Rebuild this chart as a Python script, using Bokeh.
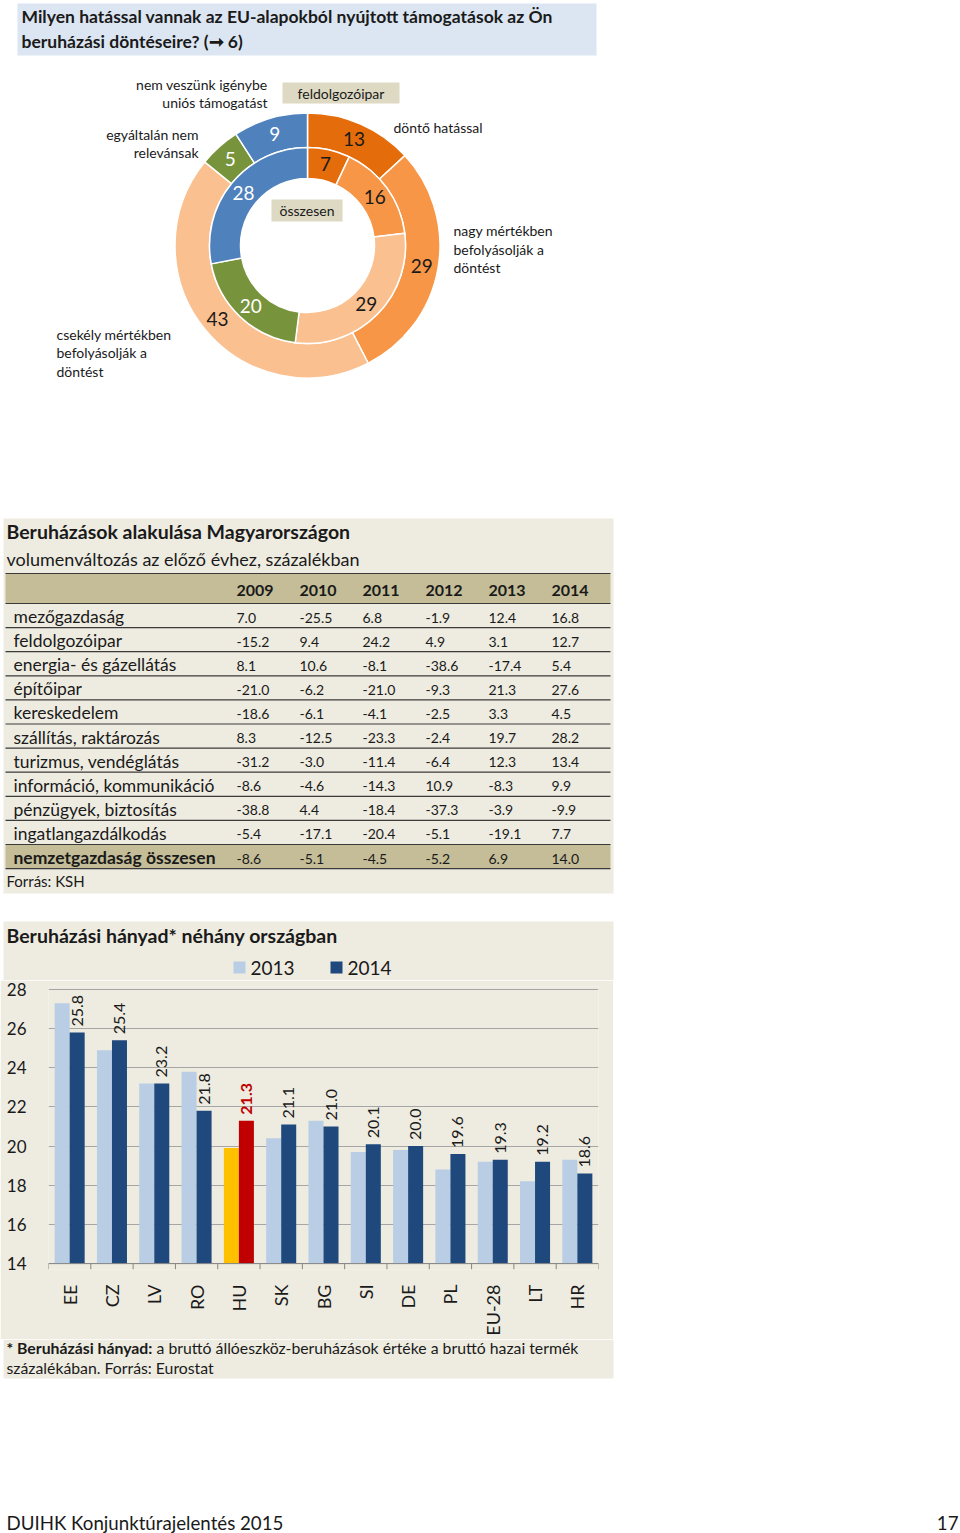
import math
from bokeh.plotting import figure
from bokeh.models import Range1d, FactorRange, ColumnDataSource, FixedTicker, Span
from bokeh.transform import dodge
from bokeh.core.properties import value
from bokeh.embed import file_html
from bokeh.resources import INLINE

FONT = "Lato"
INK = "#1a1a1a"
BEIGE = "#EEECE1"
TAN = "#C4BD97"
BOXBEIGE = "#DDD9C3"

# ---------------- data ----------------
page_title = ["Milyen hatással vannak az EU-alapokból nyújtott támogatások az Ön",
              "beruházási döntéseire? (\u279e 6)"]

donut_categories = ["döntő hatással",
                    "nagy mértékben befolyásolják a döntést",
                    "csekély mértékben befolyásolják a döntést",
                    "egyáltalán nem relevánsak",
                    "nem veszünk igénybe uniós támogatást"]
donut_label_lines = [["döntő hatással"],
                     ["nagy mértékben", "befolyásolják a", "döntést"],
                     ["csekély mértékben", "befolyásolják a", "döntést"],
                     ["egyáltalán nem", "relevánsak"],
                     ["nem veszünk igénybe", "uniós támogatást"]]
donut_rings = ["feldolgozóipar", "összesen"]
outer_values = [13, 29, 43, 5, 9]      # feldolgozóipar
inner_values = [7, 16, 29, 20, 28]     # összesen
donut_colors = ["#E46C0A", "#F79646", "#FAC090", "#77933C", "#4F81BD"]
donut_text_colors = [INK, INK, INK, "white", "white"]

table_title = "Beruházások alakulása Magyarországon"
table_subtitle = "volumenváltozás az előző évhez, százalékban"
table_years = ["2009", "2010", "2011", "2012", "2013", "2014"]
sectors = ["mezőgazdaság", "feldolgozóipar", "energia- és gázellátás", "építőipar",
           "kereskedelem", "szállítás, raktározás", "turizmus, vendéglátás",
           "információ, kommunikáció", "pénzügyek, biztosítás", "ingatlangazdálkodás",
           "nemzetgazdaság összesen"]
v2009 = [7.0, -15.2, 8.1, -21.0, -18.6, 8.3, -31.2, -8.6, -38.8, -5.4, -8.6]
v2010 = [-25.5, 9.4, 10.6, -6.2, -6.1, -12.5, -3.0, -4.6, 4.4, -17.1, -5.1]
v2011 = [6.8, 24.2, -8.1, -21.0, -4.1, -23.3, -11.4, -14.3, -18.4, -20.4, -4.5]
v2012 = [-1.9, 4.9, -38.6, -9.3, -2.5, -2.4, -6.4, 10.9, -37.3, -5.1, -5.2]
v2013 = [12.4, 3.1, -17.4, 21.3, 3.3, 19.7, 12.3, -8.3, -3.9, -19.1, 6.9]
v2014 = [16.8, 12.7, 5.4, 27.6, 4.5, 28.2, 13.4, 9.9, -9.9, 7.7, 14.0]
table_source = "Forrás: KSH"

bar_title = "Beruházási hányad* néhány országban"
countries = ["EE", "CZ", "LV", "RO", "HU", "SK", "BG", "SI", "DE", "PL", "EU-28", "LT", "HR"]
series_names = ["2013", "2014"]
share_2013 = [27.3, 24.9, 23.2, 23.8, 19.9, 20.4, 21.3, 19.7, 19.8, 18.8, 19.2, 18.2, 19.3]
share_2014 = [25.8, 25.4, 23.2, 21.8, 21.3, 21.1, 21.0, 20.1, 20.0, 19.6, 19.3, 19.2, 18.6]
y_ticks = [14, 16, 18, 20, 22, 24, 26, 28]
highlight = "HU"
footnote_bold = "* Beruházási hányad:"
footnote_rest = "a bruttó állóeszköz-beruházások értéke a bruttó hazai termék"
footnote_line2 = "százalékában. Forrás: Eurostat"
footer_left = "DUIHK Konjunktúrajelentés 2015"
footer_right = "17"

LIGHT, DARK, YELLOW, RED = "#B9CDE5", "#1F497D", "#FFC000", "#C00000"

W = 960


# ---------------- helpers ----------------
def canvas(y0, y1, width=W):
    p = figure(width=width, height=y1 - y0, x_range=Range1d(0, width),
               y_range=Range1d(-y1, -y0), x_axis_type=None, y_axis_type=None,
               output_backend="svg", toolbar_location=None, min_border=0)
    p.outline_line_color = None
    p.background_fill_color = "white"
    p.border_fill_color = "white"
    return p


def txt(p, x, y, s, size, color=INK, align="left", style="normal", baseline="middle"):
    p.text(x=[x], y=[-y], text=[s], text_font=value(FONT), text_font_size=f"{size}px",
           text_color=color, text_align=align, text_baseline=baseline,
           text_font_style=style)


def box(p, l, r, t, b, color):
    p.quad(left=[l], right=[r], top=[-t], bottom=[-b], fill_color=color, line_color=None)


# ---------------- top canvas: title, donut, table, bar-section header ----------------
pt = canvas(0, 980)

box(pt, 17, 596, 3, 55, "#DCE6F2")
txt(pt, 21, 16, page_title[0], 17.5, style="bold")
txt(pt, 21, 41, page_title[1], 17.5, style="bold")

cx, cy = 307, -245


def ring(p, vals, r0, r1, rl):
    tot = float(sum(vals))
    cum = [0]
    for v in vals:
        cum.append(cum[-1] + v)
    starts = [math.pi / 2 - 2 * math.pi * cum[i + 1] / tot for i in range(len(vals))]
    ends = [math.pi / 2 - 2 * math.pi * cum[i] / tot for i in range(len(vals))]
    mids = [(s + e) / 2 for s, e in zip(starts, ends)]
    src = ColumnDataSource(dict(
        start=starts, end=ends, color=donut_colors,
        lx=[cx + rl * math.cos(m) for m in mids],
        ly=[cy + rl * math.sin(m) for m in mids],
        label=[str(v) for v in vals], tcolor=donut_text_colors))
    p.annular_wedge(x=cx, y=cy, inner_radius=r0, outer_radius=r1,
                    start_angle="start", end_angle="end", fill_color="color",
                    line_color="white", line_width=1.5, source=src)
    p.text(x="lx", y="ly", text="label", text_color="tcolor", text_font=value(FONT),
           text_font_size="19px", text_align="center", text_baseline="middle", source=src)


ring(pt, outer_values, 98, 132.5, 116)
ring(pt, inner_values, 67, 98, 83)

# ring name boxes
box(pt, 282, 399, 82, 103, BOXBEIGE)
txt(pt, 340.5, 93, donut_rings[0], 14, align="center")
box(pt, 271, 342, 199, 221, BOXBEIGE)
txt(pt, 306.5, 210, donut_rings[1], 14, align="center")

# category annotations
ann_pos = [(393, [127], "left"), (453, [230, 249, 267], "left"),
           (56, [334, 352, 371], "left"), (198, [134, 152], "right"),
           (267, [84, 102], "right")]
for lines, (ax, ays, al) in zip(donut_label_lines, ann_pos):
    for line, ay in zip(lines, ays):
        txt(pt, ax, ay, line, 14, align=al)

# ----- table -----
box(pt, 3, 613, 518, 893, BEIGE)
txt(pt, 6, 531, table_title, 19.5, style="bold")
txt(pt, 6, 558, table_subtitle, 18)


def row_top(i):
    return 603 + 24.1 * i


box(pt, 5, 610, 573, 603, TAN)
box(pt, 5, 610, row_top(10), row_top(11), TAN)
line_ys = [573] + [row_top(i) for i in range(12)]
pt.segment(x0=[5] * len(line_ys), x1=[610] * len(line_ys), y0=[-y for y in line_ys],
           y1=[-y for y in line_ys], line_color="#3a3a3a", line_width=1.2)

col_x = [236 + 63 * j for j in range(len(table_years))]
pt.text(x=col_x, y=[-590] * len(col_x), text=table_years, text_font=value(FONT),
        text_font_size="16px", text_font_style="bold", text_color=INK,
        text_baseline="middle")

rows_y = [-(row_top(i) + 13) for i in range(len(sectors))]
pt.text(x=[13] * len(sectors), y=rows_y, text=sectors, text_font=value(FONT),
        text_font_size="17.5px", text_color=INK, text_baseline="middle",
        text_font_style=["normal"] * (len(sectors) - 1) + ["bold"])

tx, ty, tt = [], [], []
for j, colvals in enumerate([v2009, v2010, v2011, v2012, v2013, v2014]):
    for i, v in enumerate(colvals):
        tx.append(col_x[j])
        ty.append(rows_y[i] - 1)
        tt.append(f"{v:.1f}")
pt.text(x=tx, y=ty, text=tt, text_font=value(FONT), text_font_size="14px",
        text_color=INK, text_baseline="middle")
txt(pt, 6, 880, table_source, 15)

# ----- bar section header -----
box(pt, 3, 613, 921, 980, BEIGE)
txt(pt, 6, 935, bar_title, 19.5, style="bold")
leg_x = [233, 330]
pt.quad(left=leg_x, right=[x + 12 for x in leg_x], top=[-961, -961], bottom=[-973, -973],
        fill_color=[LIGHT, DARK], line_color=None)
pt.text(x=[x + 17 for x in leg_x], y=[-967, -967], text=series_names,
        text_font=value(FONT), text_font_size="19px", text_color=INK,
        text_baseline="middle")

# ---------------- bar chart ----------------
pb = figure(width=613, height=359, x_range=FactorRange(factors=countries, range_padding=0),
            y_range=Range1d(13.7, 28.15), output_backend="svg", toolbar_location=None,
            min_border_left=48, min_border_right=15, min_border_top=6, min_border_bottom=70)
pb.background_fill_color = BEIGE
pb.border_fill_color = BEIGE
pb.outline_line_color = None

pb.yaxis.ticker = FixedTicker(ticks=y_ticks)
pb.ygrid.ticker = FixedTicker(ticks=y_ticks)
pb.ygrid.grid_line_color = "#A6A6A6"
pb.xgrid.visible = False
pb.yaxis.axis_line_color = None
pb.yaxis.major_tick_line_color = None
pb.yaxis.minor_tick_line_color = None
pb.yaxis.major_label_text_font = FONT
pb.yaxis.major_label_text_font_size = "17px"
pb.yaxis.major_label_text_color = INK
pb.yaxis.major_label_standoff = 16

pb.xaxis.axis_line_color = None
pb.xaxis.major_tick_line_color = None
pb.xaxis.major_label_orientation = math.pi / 2
pb.xaxis.major_label_text_font = FONT
pb.xaxis.major_label_text_font_size = "18px"
pb.xaxis.major_label_text_color = INK
pb.xaxis.major_label_standoff = 9

bsrc = ColumnDataSource(dict(
    country=countries, v13=share_2013, v14=share_2014,
    c13=[YELLOW if c == highlight else LIGHT for c in countries],
    c14=[RED if c == highlight else DARK for c in countries],
    lab=[f"{v:.1f}" for v in share_2014],
    lc=[RED if c == highlight else INK for c in countries],
    ls=["bold" if c == highlight else "normal" for c in countries]))

bw = 0.355
pb.vbar(x=dodge("country", -bw / 2, range=pb.x_range), top="v13", bottom=14, width=bw,
        fill_color="c13", line_color=None, source=bsrc)
pb.vbar(x=dodge("country", bw / 2, range=pb.x_range), top="v14", bottom=14, width=bw,
        fill_color="c14", line_color=None, source=bsrc)
pb.text(x=dodge("country", bw / 2, range=pb.x_range), y="v14", text="lab",
        angle=math.pi / 2, text_align="left", text_baseline="middle", y_offset=-6,
        text_color="lc", text_font_style="ls", text_font=value(FONT),
        text_font_size="16px", source=bsrc)

pb.add_layout(Span(location=14, dimension="width", line_color="#868686", line_width=1))
bounds = list(range(len(countries) + 1))
pb.segment(x0=bounds, x1=bounds, y0=[14] * len(bounds), y1=[13.7] * len(bounds),
           line_color="#868686", line_width=1)

# ---------------- bottom canvas: footnote and page footer ----------------
pf = canvas(1339, 1533)
box(pf, 3, 613, 1339, 1378, BEIGE)
txt(pf, 6, 1347, footnote_bold, 15.8, style="bold")
txt(pf, 156, 1347, footnote_rest, 15.8)
txt(pf, 6, 1367, footnote_line2, 15.8)
txt(pf, 6, 1522, footer_left, 18.7)
txt(pf, 958, 1522, footer_right, 18.7, align="right")

open("out.html", "w").write(file_html([pt, pb, pf], INLINE))
